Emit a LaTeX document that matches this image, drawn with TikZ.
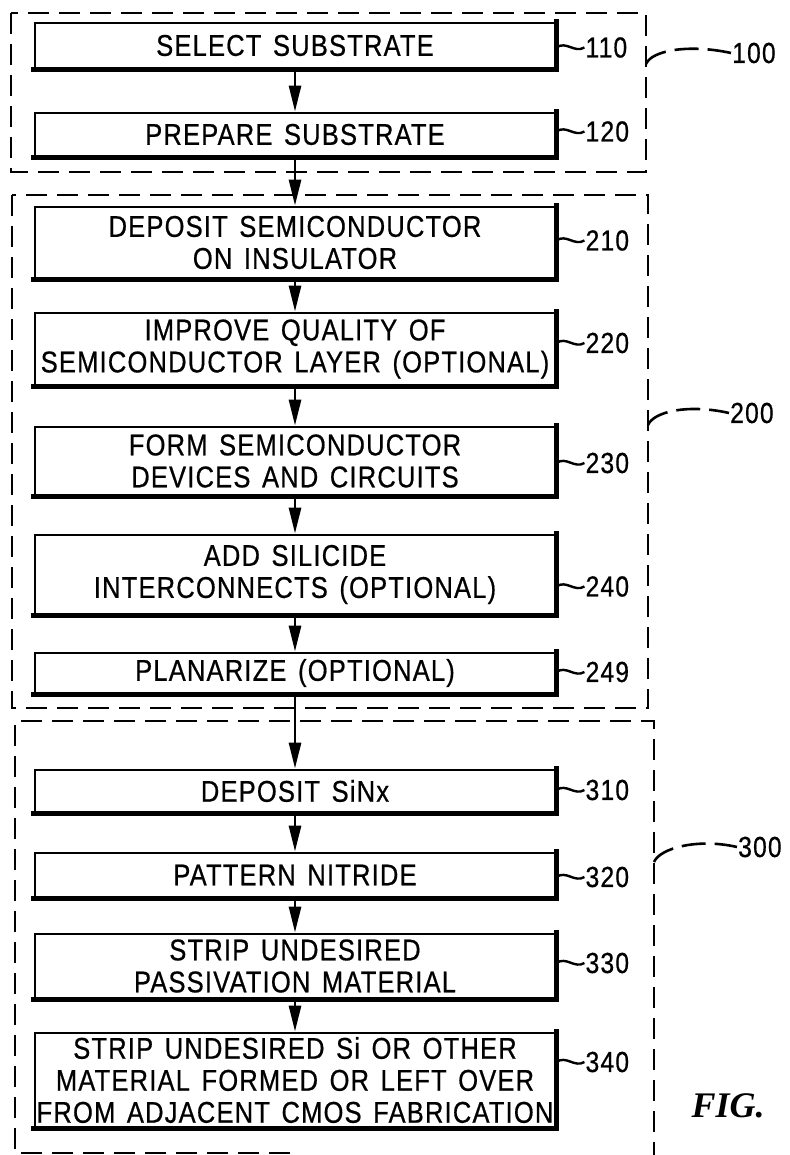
\documentclass[tikz,border=0pt]{standalone}
\usepackage{fontspec}
\setmainfont{Liberation Sans}[FakeStretch=0.85, FakeBold=0.6, LetterSpace=4, WordSpace=1.4]
\newfontfamily\figfont{Liberation Serif}
\usetikzlibrary{arrows.meta,calc}

\tikzset{
  stepbox/.style={draw, line width=2.8pt, minimum width=520pt, inner sep=0pt,
    align=center, font=\fontsize{30}{32}\selectfont},
  heavy/.style={line width=5pt, line cap=rect},
  flow/.style={line width=2.8pt, -{Triangle[length=26pt,width=12pt]}},
  tag/.style={inner sep=1pt, anchor=west, font=\fontsize{29}{30}\selectfont},
  leader/.style={line width=2.4pt},
  group/.style={line width=2.6pt, dash pattern=on 21pt off 10pt},
  groupleader/.style={line width=2.6pt, dash pattern=on 24pt off 9pt}
}

\begin{document}
\begin{tikzpicture}[x=1pt, y=-1pt]
  \useasboundingbox (0,0) rectangle (789,1155);

  % gestrichelte Gruppen
  \draw[group] (11,13) rectangle (646,172);
  \draw[group] (12,195) rectangle (648,708);
  \draw[group] (290,1153) -- (15,1153) -- (15,721) -- (654,721) -- (654,1155);

  % Schritte
  \node[stepbox, minimum height=45pt] (n110) at (295,45.5) {SELECT SUBSTRATE};
  \node[stepbox, minimum height=43pt] (n120) at (295,134.5) {PREPARE SUBSTRATE};
  \node[stepbox, minimum height=71pt] (n210) at (295,242.5) {DEPOSIT SEMICONDUCTOR\\ON INSULATOR};
  \node[stepbox, minimum height=72pt] (n220) at (295,349) {IMPROVE QUALITY OF\\SEMICONDUCTOR LAYER (OPTIONAL)};
  \node[stepbox, minimum height=68pt] (n230) at (295,461) {FORM SEMICONDUCTOR\\DEVICES AND CIRCUITS};
  \node[stepbox, minimum height=79pt] (n240) at (295,574.5) {ADD SILICIDE\\INTERCONNECTS (OPTIONAL)};
  \node[stepbox, minimum height=40pt] (n249) at (295,673) {PLANARIZE (OPTIONAL)};
  \node[stepbox, minimum height=42pt] (n310) at (295,791) {DEPOSIT SiNx};
  \node[stepbox, minimum height=44pt] (n320) at (295,875) {PATTERN NITRIDE};
  \node[stepbox, minimum height=64pt] (n330) at (295,966) {STRIP UNDESIRED\\PASSIVATION MATERIAL};
  \node[stepbox, minimum height=94pt] (n340) at (295,1080) {STRIP UNDESIRED Si OR OTHER\\MATERIAL FORMED OR LEFT OVER\\FROM ADJACENT CMOS FABRICATION};

  % dicke Kanten rechts und unten
  \foreach \n in {110,120,210,220,230,240,249,310,320,330,340}
    \draw[heavy] (n\n.north east) -- (n\n.south east) -- (n\n.south west);

  % Pfeile
  \foreach \a/\b in {110/120,120/210,210/220,220/230,230/240,240/249,249/310,310/320,320/330,330/340}
    \draw[flow] (n\a) -- (n\b);

  % Bezugszeichen der Schritte
  \foreach \n/\dy in {110/-2,120/3,210/2,220/6,230/-2,240/-12,249/1,310/1,320/-2,330/3,340/18} {
    \node[tag] (t\n) at ([xshift=28pt, yshift=\dy pt]n\n.east) {\n};
    \draw[leader] (t\n.west -| n\n.east) .. controls +(10,-7) and +(-10,6) .. (t\n.west);
  }

  % Bezugszeichen der Gruppen
  \coordinate (g100) at (646,64);
  \coordinate (g200) at (648,425);
  \coordinate (g300) at (654,862);
  \node[tag] (t100) at (731,53) {100};
  \node[tag] (t200) at (729,413) {200};
  \node[tag] (t300) at (737,847) {300};
  \draw[groupleader] (g100) .. controls (652,50) and (690,44) .. (t100.west);
  \draw[groupleader] (g200) .. controls (654,411) and (690,404) .. (t200.west);
  \draw[groupleader] (g300) .. controls (660,848) and (698,838) .. (t300.west);

  \node[font=\figfont\bfseries\itshape\fontsize{36}{40}\selectfont] (fig) at (728,1106) {FIG.};
\end{tikzpicture}
\end{document}
